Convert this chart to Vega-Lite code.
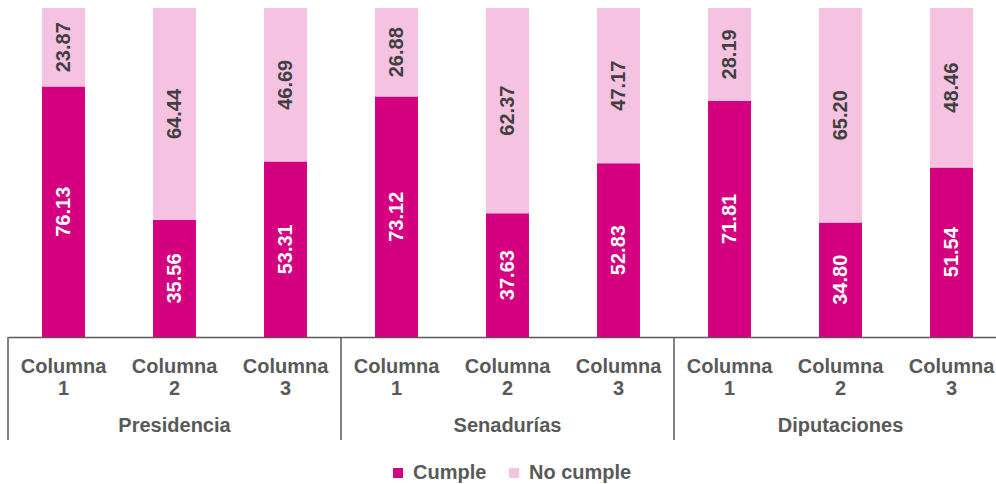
{
  "$schema": "https://vega.github.io/schema/vega-lite/v6.json",
  "autosize": {"type": "none"},
  "padding": {"left": 8, "top": 8, "right": 0, "bottom": 147},
  "width": 988,
  "height": 329,
  "background": "white",
  "config": {"view": {"stroke": null}, "font": "Liberation Sans"},
  "datasets": {
    "bars": [
      {"grp": "Presidencia", "id": "Presidencia|1", "status": "Cumple", "v": 76.13},
      {"grp": "Presidencia", "id": "Presidencia|1", "status": "No cumple", "v": 23.87},
      {"grp": "Presidencia", "id": "Presidencia|2", "status": "Cumple", "v": 35.56},
      {"grp": "Presidencia", "id": "Presidencia|2", "status": "No cumple", "v": 64.44},
      {"grp": "Presidencia", "id": "Presidencia|3", "status": "Cumple", "v": 53.31},
      {"grp": "Presidencia", "id": "Presidencia|3", "status": "No cumple", "v": 46.69},
      {"grp": "Senadurías", "id": "Senadurías|1", "status": "Cumple", "v": 73.12},
      {"grp": "Senadurías", "id": "Senadurías|1", "status": "No cumple", "v": 26.88},
      {"grp": "Senadurías", "id": "Senadurías|2", "status": "Cumple", "v": 37.63},
      {"grp": "Senadurías", "id": "Senadurías|2", "status": "No cumple", "v": 62.37},
      {"grp": "Senadurías", "id": "Senadurías|3", "status": "Cumple", "v": 52.83},
      {"grp": "Senadurías", "id": "Senadurías|3", "status": "No cumple", "v": 47.17},
      {"grp": "Diputaciones", "id": "Diputaciones|1", "status": "Cumple", "v": 71.81},
      {"grp": "Diputaciones", "id": "Diputaciones|1", "status": "No cumple", "v": 28.19},
      {"grp": "Diputaciones", "id": "Diputaciones|2", "status": "Cumple", "v": 34.80},
      {"grp": "Diputaciones", "id": "Diputaciones|2", "status": "No cumple", "v": 65.20},
      {"grp": "Diputaciones", "id": "Diputaciones|3", "status": "Cumple", "v": 51.54},
      {"grp": "Diputaciones", "id": "Diputaciones|3", "status": "No cumple", "v": 48.46}
    ],
    "groups": [
      {"grp": "Presidencia"},
      {"grp": "Senadurías"},
      {"grp": "Diputaciones"}
    ]
  },
  "layer": [
    {
      "data": {"name": "bars"},
      "layer": [
        {
          "mark": {"type": "bar"},
          "encoding": {
            "x": {
              "field": "id", "type": "nominal", "sort": null,
              "scale": {"range": [0, 999], "paddingInner": 0.613, "paddingOuter": 0.3065},
              "axis": {
                "title": null, "ticks": false, "labelAngle": 0,
                "domainColor": "#595959", "domainWidth": 1.5,
                "labelExpr": "['Columna', slice(datum.label, -1)]",
                "labelFont": "Liberation Sans", "labelFontSize": 20, "labelFontWeight": "bold",
                "labelColor": "#595959", "labelLineHeight": 22, "labelPadding": 19,
                "labelOverlap": false, "labelBound": false, "labelLimit": 0
              }
            },
            "y": {
              "field": "v", "type": "quantitative", "stack": "zero",
              "scale": {"domain": [0, 100], "nice": false, "zero": true},
              "axis": null
            },
            "color": {
              "field": "status", "type": "nominal",
              "scale": {"domain": ["Cumple", "No cumple"], "range": ["#D5007F", "#F5C3E1"]},
              "legend": {
                "title": null, "orient": "none", "direction": "horizontal",
                "legendX": 380, "legendY": 455,
                "symbolType": "square", "symbolSize": 100, "symbolStrokeWidth": 0,
                "labelFont": "Liberation Sans", "labelFontSize": 20, "labelFontWeight": "bold",
                "labelColor": "#595959", "labelOffset": 5, "columnPadding": 17
              }
            },
            "order": {"field": "status", "sort": "ascending"}
          }
        },
        {
          "mark": {"type": "text", "angle": 270, "align": "center", "baseline": "middle",
                   "font": "Liberation Sans", "fontSize": 20, "fontWeight": "bold"},
          "encoding": {
            "x": {"field": "id", "type": "nominal", "sort": null},
            "y": {"field": "v", "type": "quantitative", "stack": "zero", "bandPosition": 0.5},
            "detail": {"field": "status"},
            "order": {"field": "status", "sort": "ascending"},
            "text": {"field": "v", "type": "quantitative", "format": ".2f"},
            "color": {"condition": {"test": "datum.status === 'Cumple'", "value": "white"}, "value": "#404040"}
          }
        }
      ]
    },
    {
      "data": {"name": "groups"},
      "layer": [
        {
          "mark": {"type": "rule", "color": "#595959", "strokeWidth": 1.5},
          "encoding": {
            "x": {
              "field": "grp", "type": "nominal", "sort": null, "bandPosition": 0,
              "scale": {"range": [0, 999], "paddingInner": 0, "paddingOuter": 0},
              "axis": null
            },
            "y": {"datum": 0, "type": "quantitative", "scale": {"domain": [0, 100], "nice": false}},
            "y2": {"datum": -31.3}
          }
        },
        {
          "mark": {"type": "text", "align": "center", "baseline": "middle",
                   "font": "Liberation Sans", "fontSize": 20, "fontWeight": "bold", "color": "#595959"},
          "encoding": {
            "x": {"field": "grp", "type": "nominal", "sort": null, "bandPosition": 0.5},
            "y": {"datum": -27, "type": "quantitative"},
            "text": {"field": "grp"}
          }
        }
      ]
    }
  ],
  "resolve": {"scale": {"x": "independent", "y": "independent"}}
}
